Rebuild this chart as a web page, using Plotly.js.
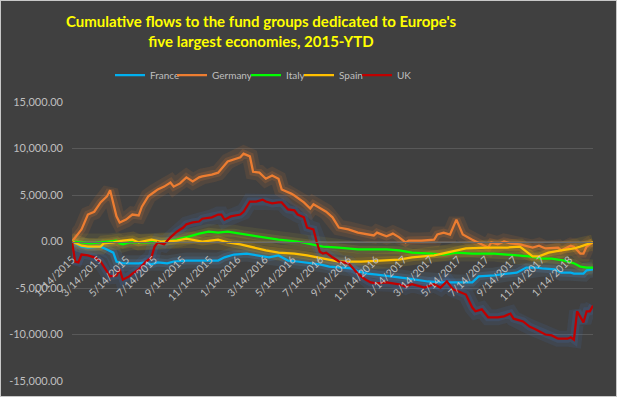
<!DOCTYPE html>
<html>
<head>
<meta charset="utf-8">
<script src="https://cdn.plot.ly/plotly-3.0.1.min.js"></script>
<style>
  html, body { margin: 0; padding: 0; background: #404040; }
  #wrap { position: relative; width: 617px; height: 397px; }
  #chart { width: 617px; height: 397px; }
  #frame { position: absolute; left: 0; top: 0; width: 615px; height: 395px; border: 1px solid #c8c8c8; pointer-events: none; }
</style>
</head>
<body>
<div id="wrap"><div id="chart"></div><div id="frame"></div></div>
<script>
// ---- data (weekly fund-flow readings, USD millions) ----
const franceDates = ['2015-01-14','2015-02-04','2015-02-18','2015-03-18','2015-04-01','2015-04-15','2015-04-22','2015-05-06','2015-06-10','2015-06-24','2015-07-08','2015-07-22','2015-08-12','2015-08-26','2015-09-23','2015-12-02','2015-12-16','2016-01-06','2016-02-03','2016-03-02','2016-03-23','2016-04-13','2016-05-04','2016-05-25','2016-06-15','2016-07-13','2016-08-03','2016-08-24','2016-09-21','2016-10-05','2016-10-26','2016-11-16','2016-12-21','2017-01-25','2017-03-08','2017-04-05','2017-05-10','2017-06-14','2017-06-28','2017-08-02','2017-08-30','2017-09-20','2017-10-11','2017-11-01','2017-11-15','2017-12-13','2017-12-27','2018-01-17','2018-01-24','2018-02-14','2018-02-21','2018-03-07'];
const franceValues = [0,-550,-650,-550,-850,-1200,-2150,-2350,-2350,-2250,-2450,-2250,-2350,-2150,-2050,-2050,-1700,-1400,-1300,-1500,-1700,-1500,-2050,-2150,-2250,-2450,-2700,-2800,-2900,-3200,-3450,-3550,-3750,-4000,-4300,-4400,-4400,-4400,-3750,-3650,-3450,-3350,-2800,-2800,-2900,-3000,-3350,-3350,-3450,-3450,-3100,-3000];

const germanyDates = ['2015-01-14','2015-02-04','2015-02-18','2015-03-04','2015-03-18','2015-04-01','2015-04-08','2015-04-22','2015-04-29','2015-05-13','2015-05-27','2015-06-10','2015-06-17','2015-07-01','2015-07-15','2015-07-22','2015-08-05','2015-08-19','2015-08-26','2015-09-09','2015-09-23','2015-10-07','2015-10-21','2015-10-28','2015-11-18','2015-12-02','2015-12-23','2016-01-06','2016-01-20','2016-01-27','2016-02-10','2016-02-17','2016-03-02','2016-03-16','2016-03-30','2016-04-13','2016-04-20','2016-05-11','2016-05-18','2016-06-08','2016-06-22','2016-06-29','2016-07-27','2016-08-10','2016-08-24','2016-09-14','2016-10-05','2016-11-09','2016-11-16','2016-12-07','2016-12-21','2017-01-04','2017-01-18','2017-01-25','2017-02-22','2017-03-22','2017-03-29','2017-04-12','2017-04-26','2017-05-10','2017-05-24','2017-06-14','2017-07-05','2017-07-19','2017-07-26','2017-08-09','2017-08-23','2017-09-06','2017-09-27','2017-10-25','2017-11-08','2017-11-22','2017-12-20','2017-12-27','2018-01-17','2018-01-24','2018-02-07','2018-02-14','2018-02-21','2018-03-07'];
const germanyValues = [0,1300,2900,3200,4200,4850,5500,2700,2050,2350,2900,2800,3750,4850,5350,5600,5900,6350,5900,6250,6900,6450,6900,7000,7200,7400,8600,8800,9050,9450,9150,7500,7400,6750,7100,6750,5600,5150,4950,4200,3550,4000,3200,2600,1500,1300,950,650,950,550,850,450,-100,100,100,200,750,950,750,2350,750,200,-300,-650,-100,-300,0,-200,-300,-650,-450,-750,-650,-950,-450,-550,-1300,-1300,-550,-100];

const italyDates = ['2015-01-14','2015-02-04','2015-02-25','2015-03-18','2015-04-08','2015-04-22','2015-04-29','2015-05-06','2015-05-20','2015-07-01','2015-08-12','2015-09-02','2015-09-30','2015-10-21','2015-11-11','2015-12-02','2015-12-23','2016-01-06','2016-01-27','2016-02-24','2016-03-16','2016-04-13','2016-05-25','2016-06-22','2016-07-20','2016-08-24','2016-10-05','2016-11-09','2016-12-07','2017-01-04','2017-02-01','2017-03-15','2017-04-12','2017-05-10','2017-06-14','2017-08-02','2017-09-27','2017-10-18','2017-11-15','2017-12-06','2018-01-03','2018-01-24','2018-02-07','2018-02-21','2018-03-07'];
const italyValues = [0,-100,-200,-100,0,100,-200,-300,-100,-100,0,200,550,850,1050,950,1050,950,750,550,450,200,0,-300,-550,-650,-850,-850,-850,-950,-1200,-1300,-1400,-1200,-1300,-1300,-1500,-1600,-1850,-1850,-2050,-2350,-2700,-2800,-2800];

const spainDates = ['2015-01-14','2015-02-04','2015-02-18','2015-03-18','2015-03-25','2015-04-15','2015-05-06','2015-05-27','2015-06-10','2015-07-08','2015-07-29','2015-09-02','2015-09-23','2015-10-07','2015-10-28','2015-12-02','2015-12-23','2016-01-20','2016-02-17','2016-03-16','2016-04-13','2016-05-18','2016-06-15','2016-07-06','2016-07-27','2016-08-24','2016-10-12','2016-12-07','2017-01-04','2017-02-01','2017-03-22','2017-04-19','2017-05-10','2017-05-31','2017-07-19','2017-08-30','2017-09-27','2017-10-11','2017-10-25','2017-11-08','2017-11-29','2017-12-27','2018-01-24','2018-02-07','2018-02-21','2018-03-07'];
const spainValues = [0,-450,-550,-550,-200,-100,100,200,-100,200,0,100,300,200,0,200,-100,-300,-650,-950,-1200,-1300,-1500,-1700,-1950,-2150,-2150,-2050,-1950,-1700,-1500,-1200,-950,-750,-650,-650,-550,-1050,-1600,-1600,-1200,-950,-750,-550,-300,-100];

const ukDates = ['2015-01-14','2015-01-21','2015-01-28','2015-02-04','2015-02-18','2015-03-04','2015-03-18','2015-04-01','2015-04-08','2015-04-22','2015-04-29','2015-05-06','2015-05-20','2015-05-27','2015-06-10','2015-06-24','2015-07-08','2015-07-15','2015-07-22','2015-08-05','2015-08-19','2015-09-02','2015-09-16','2015-09-23','2015-10-07','2015-10-21','2015-10-28','2015-11-18','2015-12-02','2015-12-09','2015-12-16','2015-12-30','2016-01-20','2016-01-27','2016-02-10','2016-02-24','2016-03-02','2016-03-09','2016-03-16','2016-03-30','2016-04-13','2016-04-20','2016-05-04','2016-05-18','2016-05-25','2016-06-08','2016-06-15','2016-06-29','2016-07-06','2016-07-13','2016-07-20','2016-07-27','2016-08-10','2016-08-24','2016-09-14','2016-09-21','2016-10-05','2016-10-19','2016-11-02','2016-11-16','2016-12-07','2016-12-21','2017-01-04','2017-01-18','2017-02-01','2017-03-01','2017-03-22','2017-04-05','2017-04-19','2017-05-03','2017-05-17','2017-05-31','2017-06-14','2017-06-21','2017-07-05','2017-07-19','2017-08-09','2017-08-23','2017-09-06','2017-09-13','2017-10-04','2017-10-18','2017-11-01','2017-11-22','2017-12-06','2017-12-20','2018-01-10','2018-01-17','2018-01-24','2018-01-31','2018-02-14','2018-02-21','2018-02-28','2018-03-07'];
const ukValues = [0,-2150,-2250,-1400,-1500,-1700,-2150,-3200,-3750,-3650,-3000,-4100,-3750,-3450,-3000,-2250,-1700,-550,-100,-300,450,1050,1500,1850,2050,2150,2450,2600,2900,2900,2350,2700,2900,3200,4300,4300,4400,4500,4300,4100,4200,4200,3450,3350,2900,2600,1500,1300,0,-1100,-1300,-1200,-1700,-2150,-2350,-2700,-3450,-4000,-4400,-4500,-4400,-4500,-4600,-4850,-4600,-4950,-4600,-4950,-4300,-5150,-5400,-5700,-7100,-7500,-7300,-8150,-8150,-8050,-7750,-8300,-8600,-9150,-9450,-10000,-10100,-10450,-10450,-10300,-10550,-7500,-8700,-7500,-7500,-6900];

const seriesNames = ['France','Germany','Italy','Spain','UK'];
const xTickDates = ['2015-01-14','2015-03-14','2015-05-14','2015-07-14','2015-09-14','2015-11-14','2016-01-14','2016-03-14','2016-05-14','2016-07-14','2016-09-14','2016-11-14','2017-01-14','2017-03-14','2017-05-14','2017-07-14','2017-09-14','2017-11-14','2018-01-14'];
const yTickValues = [-15000,-10000,-5000,0,5000,10000,15000];
const yTickLabels = ['-15,000.00','-10,000.00','-5,000.00','0.00','5,000.00','10,000.00','15,000.00'];

// ---- styling ----
const lineColors = ['#00b0f0','#ed7d31','#00ff00','#ffc000','#c00000'];
const glowColors = ['#5b9bd5','#ed7d31','#b8b030','#ffc000','#4472c4'];
const legendIds = ['legend','legend2','legend3','legend4','legend5'];
const legendCenters = [130, 192, 266, 319, 377]; // px of each legend swatch centre
const xs = [franceDates, germanyDates, italyDates, spainDates, ukDates];
const ys = [franceValues, germanyValues, italyValues, spainValues, ukValues];

const traces = [];
for (let i = 0; i < 5; i++) {
  traces.push({x: xs[i], y: ys[i], type: 'scatter', mode: 'lines', showlegend: false, hoverinfo: 'skip',
    line: {color: glowColors[i], width: 16}, opacity: 0.11});
  traces.push({x: xs[i], y: ys[i], type: 'scatter', mode: 'lines', showlegend: false, hoverinfo: 'skip',
    line: {color: glowColors[i], width: 8}, opacity: 0.17});
}
for (let i = 0; i < 5; i++) {
  traces.push({x: xs[i], y: ys[i], type: 'scatter', mode: 'lines', name: seriesNames[i],
    legend: legendIds[i], line: {color: lineColors[i], width: 2.25}});
}

const layout = {
  width: 617, height: 397,
  paper_bgcolor: '#404040', plot_bgcolor: '#404040',
  margin: {l: 72, r: 24, t: 102, b: 16},
  font: {family: 'Lato, sans-serif', color: '#bfbfbf'},
  title: {
    text: "Cumulative flows to the fund groups dedicated to Europe's<br>five largest economies, 2015-YTD",
    font: {family: 'Lato, sans-serif', size: 15, color: '#ffff00', weight: 'bold'},
    xref: 'container', x: 261/617, xanchor: 'center',
    yref: 'container', y: 1 - 27/397, yanchor: 'top'
  },
  xaxis: {
    type: 'date', range: ['2015-01-14', '2018-03-07'],
    tickmode: 'array', tickvals: xTickDates, tickformat: '%-m/%-d/%Y',
    tickangle: -45, anchor: 'free', position: 0.5,
    showline: true, linecolor: '#6a6a6a', linewidth: 1,
    showgrid: false, zeroline: false, ticks: '', ticklabelstandoff: 7,
    tickfont: {family: 'Lato, sans-serif', size: 10.5, color: '#bfbfbf'}
  },
  yaxis: {
    range: [-15000, 15000], tickmode: 'array', tickvals: yTickValues, ticktext: yTickLabels,
    showgrid: true, gridcolor: '#595959', gridwidth: 1, zeroline: false, showline: false,
    ticks: '', ticklabelstandoff: 8,
    tickfont: {family: 'Lato, sans-serif', size: 11, color: '#bfbfbf'}
  },
  showlegend: true
};
for (let i = 0; i < 5; i++) {
  layout[legendIds[i]] = {
    orientation: 'h', xref: 'container', yref: 'container',
    x: (legendCenters[i] - 20) / 617, xanchor: 'left', y: 1 - 75/397, yanchor: 'middle',
    font: {family: 'Lato, sans-serif', size: 10, color: '#bfbfbf'},
    bgcolor: 'rgba(0,0,0,0)', itemwidth: 30
  };
}

Plotly.newPlot('chart', traces, layout, {displayModeBar: false, staticPlot: true});
</script>
</body>
</html>
